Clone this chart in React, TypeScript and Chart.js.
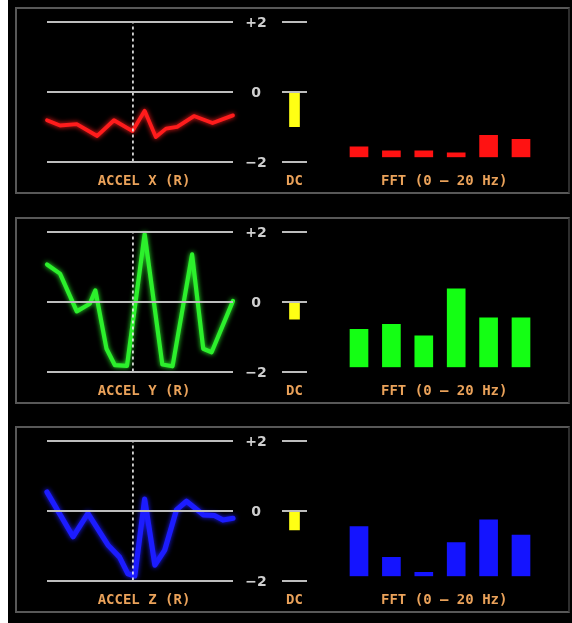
import React, { useEffect, useRef } from 'react';
import { Chart, registerables } from 'chart.js';

Chart.register(...registerables);

// ---- shared axis data ----
const yTickValues = [2, 0, -2];
const yTickLabels = ['+2', '0', '−2'];
const cursorTime = 46.2; // dashed cursor position (percent of time window)

// ---- ACCEL X ----
const accelXTime = [0, 7, 16, 27, 36, 46, 52.5, 58.5, 64, 70, 79, 89, 100];
const accelXValues = [-0.82, -0.97, -0.93, -1.27, -0.82, -1.13, -0.55, -1.3, -1.06, -1.01, -0.7, -0.9, -0.68];

// ---- ACCEL Y ----
const accelYTime = [0, 7, 16, 23, 26, 32, 36.5, 43, 52.5, 62, 67.5, 78, 84, 88.5, 100];
const accelYValues = [1.06, 0.8, -0.28, -0.06, 0.32, -1.35, -1.82, -1.84, 1.93, -1.8, -1.85, 1.35, -1.35, -1.45, 0.02];

// ---- ACCEL Z ----
const accelZTime = [0, 14, 22, 33, 39, 43.5, 47.2, 52.5, 58, 63.3, 69.6, 75, 84, 90, 94.6, 100];
const accelZValues = [0.53, -0.75, -0.08, -1.0, -1.33, -1.81, -1.87, 0.33, -1.56, -1.13, 0.02, 0.27, -0.12, -0.14, -0.27, -0.22];

// ---- DC components ----
const dcLabel = 'DC';
const dcValues = [-1.0, -0.5, -0.55];

// ---- FFT magnitudes ----
const fftBins = ['1.7 Hz', '5 Hz', '8.3 Hz', '11.7 Hz', '15 Hz', '18.3 Hz'];
const fftX = [0.31, 0.19, 0.19, 0.13, 0.65, 0.53];
const fftY = [1.12, 1.27, 0.93, 2.32, 1.46, 1.46];
const fftZ = [1.47, 0.56, 0.12, 1.0, 1.67, 1.22];
const fftTitle = 'FFT (0 – 20 Hz)';

const lineTitles = ['ACCEL X (R)', 'ACCEL Y (R)', 'ACCEL Z (R)'];

// ---- styles ----
const ORANGE = '#eaa25a';
const GRID = '#bdbdbd';
const TICK = '#cfcfcf';
const YELLOW = '#ffff14';
const TITLE_FONT = { family: "'DejaVu Sans Mono', monospace", size: 14, weight: 'bold' as const };
const TICK_FONT = { family: "'DejaVu Sans', sans-serif", size: 14, weight: 'bold' as const };

const glowPlugin = {
  id: 'glow',
  beforeDatasetDraw(chart: any, args: any) {
    const ds = chart.data.datasets[args.index];
    if (!ds.glow) return;
    chart.ctx.save();
    chart.ctx.shadowColor = ds.glow;
    chart.ctx.shadowBlur = 5;
  },
  afterDatasetDraw(chart: any, args: any) {
    const ds = chart.data.datasets[args.index];
    if (!ds.glow) return;
    chart.ctx.restore();
  },
};

function ChartBox({ left, top, width, height, make }: any) {
  const ref = useRef<HTMLCanvasElement>(null);
  useEffect(() => {
    const chart = new Chart(ref.current as HTMLCanvasElement, make());
    return () => chart.destroy();
  }, []);
  return (
    <canvas
      ref={ref}
      width={width}
      height={height}
      style={{ position: 'absolute', left, top, width, height, display: 'block' }}
    />
  );
}

function lineConfig(title: string, times: number[], values: number[], color: string, lw: number): any {
  return {
    type: 'line',
    data: {
      datasets: [
        {
          data: [{ x: cursorTime, y: -2 }, { x: cursorTime, y: 2 }],
          borderColor: '#f2f2f2',
          borderWidth: 1.6,
          borderDash: [3, 3],
          pointRadius: 0,
          order: 0,
          clip: false,
        },
        {
          data: times.map((t, i) => ({ x: t, y: values[i] })),
          borderColor: color,
          borderWidth: lw,
          pointRadius: 0,
          borderJoinStyle: 'round',
          borderCapStyle: 'round',
          order: 1,
          clip: false,
          glow: color,
        },
      ],
    },
    options: {
      animation: false,
      responsive: false,
      events: [],
      layout: { padding: { left: 5, right: 0, top: 0, bottom: 0 } },
      plugins: {
        legend: { display: false },
        tooltip: { enabled: false },
        title: {
          display: true,
          position: 'bottom',
          text: title,
          color: ORANGE,
          font: TITLE_FONT,
          padding: { top: 11.6, bottom: 2.1 },
        },
      },
      scales: {
        x: { type: 'linear', display: false, min: 0, max: 100 },
        y: {
          position: 'right',
          min: -2,
          max: 2,
          afterFit: (s: any) => { s.width = 45; },
          grid: { color: GRID, lineWidth: 2, drawTicks: false, z: 1 },
          border: { display: false },
          ticks: {
            stepSize: 2,
            padding: 12.3,
            crossAlign: 'center',
            labelOffset: 2,
            color: TICK,
            font: TICK_FONT,
            callback: (v: number) => {
              const i = yTickValues.indexOf(v);
              return i >= 0 ? yTickLabels[i] : '';
            },
          },
        },
        yLeft: {
          position: 'left',
          afterFit: (s: any) => { s.width = 37; },
          ticks: { display: false },
          grid: { display: false, drawTicks: false },
          border: { display: false },
        },
      },
    },
    plugins: [glowPlugin],
  };
}

function dcConfig(value: number): any {
  return {
    type: 'bar',
    data: {
      labels: [dcLabel],
      datasets: [{ data: [value], backgroundColor: YELLOW, barThickness: 10 }],
    },
    options: {
      animation: false,
      responsive: false,
      events: [],
      layout: { padding: { left: 6, right: 5, top: 10, bottom: 0 } },
      plugins: {
        legend: { display: false },
        tooltip: { enabled: false },
        title: {
          display: true,
          position: 'bottom',
          text: dcLabel,
          color: ORANGE,
          font: TITLE_FONT,
          padding: { top: 11.6, bottom: 2.1 },
        },
      },
      scales: {
        x: { display: false },
        y: {
          min: -2,
          max: 2,
          afterFit: (s: any) => { s.width = 0; },
          ticks: { display: false, stepSize: 2 },
          grid: { color: GRID, lineWidth: 2, drawTicks: false, z: 1 },
          border: { display: false },
        },
      },
    },
  };
}

function fftConfig(values: number[], color: string): any {
  return {
    type: 'bar',
    data: {
      labels: fftBins,
      datasets: [{ data: values, backgroundColor: color, barThickness: 18 }],
    },
    options: {
      animation: false,
      responsive: false,
      events: [],
      layout: { padding: { left: 12.8, right: 14.4, top: 10, bottom: 0 } },
      plugins: {
        legend: { display: false },
        tooltip: { enabled: false },
        title: {
          display: true,
          position: 'bottom',
          text: fftTitle,
          color: ORANGE,
          font: TITLE_FONT,
          padding: { top: 15.8, bottom: 2.1 },
        },
      },
      scales: {
        x: { display: false },
        y: {
          position: 'right',
          min: 0,
          max: 4,
          afterFit: (s: any) => { s.width = 8.4; },
          ticks: { display: false },
          grid: { display: false, drawTicks: false },
          border: { display: false },
        },
      },
    },
  };
}

const panels = [
  { top: 8, title: lineTitles[0], t: accelXTime, v: accelXValues, color: '#ff1c1c', lw: 3.8, dc: dcValues[0], fft: fftX, fftColor: '#ff1212' },
  { top: 218, title: lineTitles[1], t: accelYTime, v: accelYValues, color: '#2cf02c', lw: 4.2, dc: dcValues[1], fft: fftY, fftColor: '#14ff14' },
  { top: 427, title: lineTitles[2], t: accelZTime, v: accelZValues, color: '#1c1cff', lw: 5.2, dc: dcValues[2], fft: fftZ, fftColor: '#1414ff' },
];

function Panel({ p }: any) {
  const P = p.top;
  return (
    <>
      <div
        style={{
          position: 'absolute',
          left: 15,
          top: P - 1,
          width: 555,
          height: 187,
          boxSizing: 'border-box',
          border: '2px solid #585858',
          borderRightColor: '#2e2e2e',
        }}
      />
      <ChartBox left={5} top={P - 7} width={273} height={191} make={() => lineConfig(p.title, p.t, p.v, p.color, p.lw)} />
      <ChartBox left={276} top={P + 4} width={36} height={180} make={() => dcConfig(p.dc)} />
      <ChartBox left={330} top={P + 4} width={230} height={180} make={() => fftConfig(p.fft, p.fftColor)} />
    </>
  );
}

export default function App() {
  return (
    <div style={{ position: 'absolute', left: 0, top: 0, width: 572, height: 623, background: '#fff', overflow: 'hidden' }}>
      <div style={{ position: 'absolute', left: 8, top: 0, width: 564, height: 623, background: '#000' }} />
      {panels.map((p, i) => (
        <Panel key={i} p={p} />
      ))}
    </div>
  );
}
